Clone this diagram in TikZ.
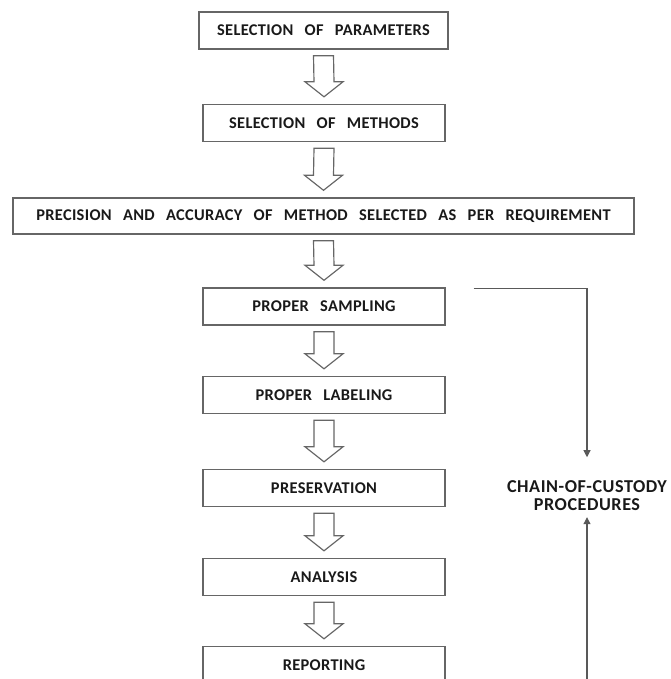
\documentclass[tikz,border=0pt]{standalone}
\usepackage{fontspec}
\setmainfont{Carlito}
\newfontfamily\boxfont{Carlito}[LetterSpace = 2, WordSpace = 2.8]
\newfontfamily\sidefont{Carlito}[LetterSpace = 3]
\usetikzlibrary{calc, arrows.meta}

\tikzset{
    stepbox/.style = {draw = black!60, line width = 1.2pt, fill = white, align = center, minimum height = 1.11cm, text = black!90, font = \boxfont\bfseries\fontsize{14}{16}\selectfont},
    blockarrow/.style = {draw = black!60, line width = 1pt, line join = miter},
    custodyline/.style = {draw = black!65, line width = 0.9pt, -{Triangle[length = 6pt, width = 6pt]}}
}

\begin{document}
\begin{tikzpicture}[x = 0.03cm, y = -0.03cm]
            \useasboundingbox (0, 0) rectangle (670, 679);
            \clip (0, 0) rectangle (670, 679);

            \node[stepbox, minimum width = 7.47cm] (param) at (323.5, 30.5) {SELECTION OF PARAMETERS};
            \node[stepbox, minimum width = 7.26cm] (method) at (324, 123) {SELECTION OF METHODS};
            \node[stepbox, minimum width = 18.63cm, minimum height = 1.08cm] (precision) at (323.5, 216) {PRECISION AND ACCURACY OF METHOD SELECTED AS PER REQUIREMENT};
            \node[stepbox, minimum width = 7.26cm] (sampling) at (324, 306.5) {PROPER SAMPLING};
            \node[stepbox, minimum width = 7.26cm] (labeling) at (324, 395) {PROPER LABELING};
            \node[stepbox, minimum width = 7.26cm] (preservation) at (324, 488) {PRESERVATION};
            \node[stepbox, minimum width = 7.26cm] (analysis) at (324, 577) {ANALYSIS};
            \node[stepbox, minimum width = 7.26cm] (reporting) at (324, 665) {REPORTING};

            \node[align = center, inner sep = 0pt, text = black!90, font = \sidefont\bfseries\fontsize{15.5}{15.5}\selectfont] (custody) at (587, 496) {CHAIN-OF-CUSTODY\\PROCEDURES};

            \foreach \a/\b in {param/method, method/precision, precision/sampling, sampling/labeling, labeling/preservation, preservation/analysis, analysis/reporting} {
                \draw[blockarrow] ($(\a.south) + (-10, 6)$) -- ($(\a.south) + (10, 6)$) -- ($(\b.north) + (10, -22)$) -- ($(\b.north) + (19, -22)$) -- ($(\b.north) + (0, -7)$) -- ($(\b.north) + (-19, -22)$) -- ($(\b.north) + (-10, -22)$) -- cycle;
            }

            \coordinate (sample_out) at ($(sampling.north east) + (28, 1)$);
            \coordinate (report_out) at ($(reporting.south east) + (28, 0)$);

            \draw[custodyline, shorten > = 20pt] (sample_out) -| (custody.north);
            \draw[custodyline, shorten > = 5pt] (report_out) -| (custody.south);
        \end{tikzpicture}
\end{document}
